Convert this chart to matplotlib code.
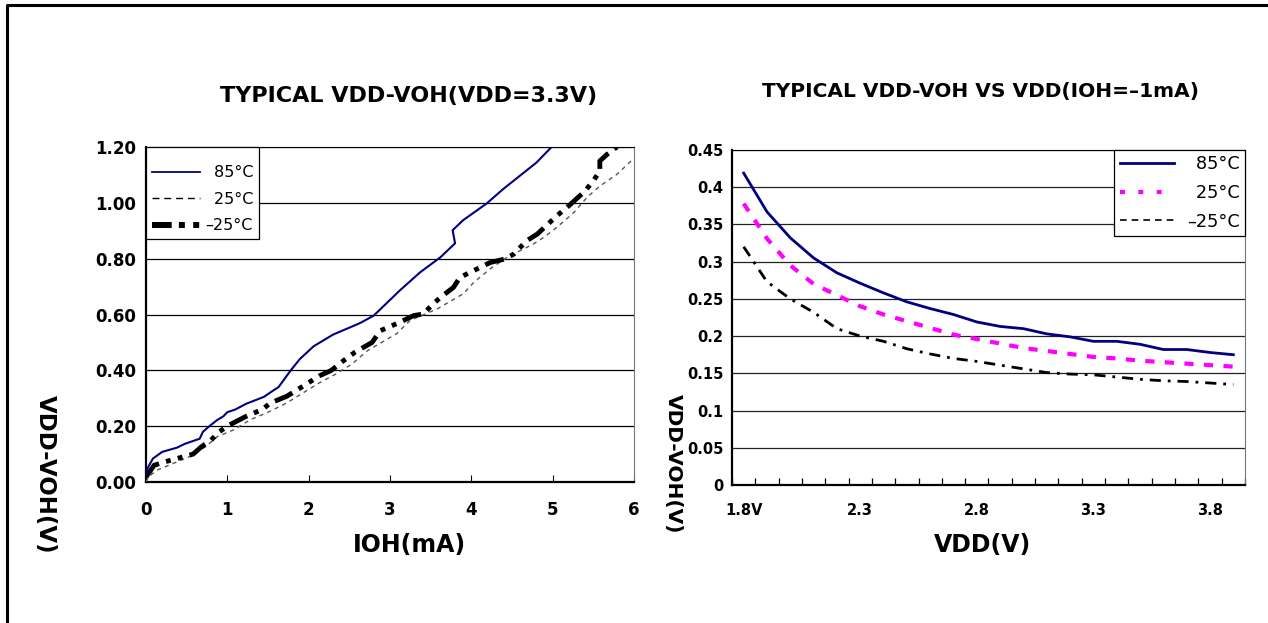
import numpy as np
import matplotlib
matplotlib.use('Agg')
import matplotlib.pyplot as plt
from matplotlib.lines import Line2D
from matplotlib.ticker import FixedLocator, FormatStrFormatter

# left chart: VDD-VOH vs IOH at VDD=3.3V
ioh_85 = [0, 0.02, 0.085, 0.2, 0.38, 0.48, 0.66, 0.70, 0.78, 0.87, 0.95, 1.0, 1.1, 1.23,
          1.45, 1.55, 1.63, 1.78, 1.89, 2.06, 2.30, 2.63, 2.80, 3.12, 3.37, 3.62, 3.80,
          3.77, 3.90, 4.19, 4.39, 4.80, 4.98]
voh_85 = [0.03, 0.05, 0.084, 0.108, 0.123, 0.137, 0.155, 0.18, 0.20, 0.221, 0.235, 0.25,
          0.26, 0.28, 0.305, 0.325, 0.34, 0.40, 0.44, 0.486, 0.528, 0.569, 0.596, 0.686,
          0.751, 0.805, 0.855, 0.902, 0.938, 0.998, 1.049, 1.144, 1.198]

ioh_25 = [0, 0.03, 0.13, 0.33, 0.53, 0.73, 0.88, 1.08, 1.28, 1.48, 1.73, 1.93, 2.13, 2.33,
          2.53, 2.72, 3.08, 3.25, 3.58, 3.90, 4.03, 4.23, 4.44, 4.76, 4.89, 5.05, 5.26,
          5.42, 5.58, 5.79, 6.0]
voh_25 = [0, 0.018, 0.042, 0.066, 0.09, 0.126, 0.163, 0.187, 0.223, 0.247, 0.283, 0.319,
          0.355, 0.386, 0.422, 0.47, 0.531, 0.579, 0.620, 0.674, 0.715, 0.763, 0.805,
          0.852, 0.876, 0.912, 0.965, 1.019, 1.060, 1.102, 1.16]

ioh_m25 = [0, 0.1, 0.23, 0.38, 0.58, 0.68, 0.8, 0.9, 1.03, 1.23, 1.43, 1.53, 1.73, 1.93,
           2.13, 2.28, 2.43, 2.57, 2.78, 2.88, 3.12, 3.29, 3.41, 3.53, 3.62, 3.78, 3.86,
           4.11, 4.23, 4.40, 4.52, 4.68, 4.81, 5.05, 5.22, 5.40, 5.50, 5.58, 5.58, 5.67,
           5.79]
voh_m25 = [0.018, 0.06, 0.072, 0.084, 0.10, 0.126, 0.15, 0.18, 0.205, 0.235, 0.26, 0.283,
           0.307, 0.343, 0.38, 0.40, 0.435, 0.465, 0.50, 0.542, 0.572, 0.596, 0.602,
           0.638, 0.661, 0.697, 0.733, 0.769, 0.786, 0.798, 0.816, 0.864, 0.888, 0.953,
           0.995, 1.043, 1.079, 1.114, 1.150, 1.174, 1.20]

# right chart: VDD-VOH vs VDD at IOH=-1mA
vdd = [1.8, 1.9, 2.0, 2.1, 2.2, 2.3, 2.4, 2.5, 2.6, 2.7, 2.8, 2.9, 3.0, 3.1, 3.2, 3.3,
       3.4, 3.5, 3.6, 3.7, 3.8, 3.9]
vdd_labels = ['1.8V', '2.3', '2.8', '3.3', '3.8']
r_85 = [0.419, 0.367, 0.332, 0.305, 0.285, 0.271, 0.258, 0.246, 0.237, 0.229, 0.219,
        0.213, 0.210, 0.203, 0.199, 0.193, 0.193, 0.189, 0.182, 0.182, 0.178, 0.175]
r_25 = [0.378, 0.331, 0.295, 0.270, 0.255, 0.240, 0.229, 0.220, 0.211, 0.202, 0.196,
        0.190, 0.184, 0.180, 0.176, 0.172, 0.170, 0.167, 0.165, 0.163, 0.161, 0.159]
r_m25 = [0.320, 0.273, 0.250, 0.232, 0.210, 0.200, 0.193, 0.183, 0.176, 0.170, 0.166,
         0.161, 0.156, 0.151, 0.149, 0.148, 0.145, 0.142, 0.140, 0.139, 0.137, 0.135]

labels = ['\u200285°C', '\u200225°C', '–25°C']

W, H = 1268, 623
fig = plt.figure(figsize=(W / 100, H / 100), dpi=100)
fig.patch.set_facecolor('white')

def px_axes(x0, y0, x1, y1):
    return fig.add_axes([x0 / W, 1 - y1 / H, (x1 - x0) / W, (y1 - y0) / H])

# outer frame (only left and top edges visible)
fig.add_artist(Line2D([7 / W, 7 / W, 1], [0, 1 - 5 / H, 1 - 5 / H],
                      transform=fig.transFigure, color='black', lw=2.2))

# ---- left chart ----
ax1 = px_axes(146, 147, 634, 482)
ax1.plot(ioh_85, voh_85, color='#000080', lw=1.5, zorder=4)
ax1.plot(ioh_25, voh_25, color='#555555', lw=1.0, ls=(0, (3, 3)), zorder=3)
ax1.plot(ioh_m25, voh_m25, color='black', lw=3.5, ls=(0, (4, 1.5, 1, 1.5, 1, 1.5)),
         zorder=3)
ax1.set_xlim(0, 6)
ax1.set_ylim(0, 1.2)
ax1.set_yticks(np.arange(0, 1.21, 0.2))
ax1.yaxis.set_major_formatter(FormatStrFormatter('%.2f'))
ax1.set_xticks(range(7))
ax1.grid(axis='y', color='black', lw=0.9)
ax1.tick_params(axis='y', length=0, pad=7, labelsize=12)
ax1.tick_params(axis='x', direction='in', length=5, pad=14, labelsize=12)
for lab in ax1.get_xticklabels() + ax1.get_yticklabels():
    lab.set_fontweight('bold')
for s in ['left', 'bottom']:
    ax1.spines[s].set_linewidth(1.6)
ax1.spines['right'].set_color('#777777')

# legend keys drawn like the original chart's legend
h1 = [Line2D([], [], color='#000080', lw=1.3),
      Line2D([], [], color='black', lw=1.0, ls=(0, (5, 3.5))),
      Line2D([], [], color='black', lw=4.3, ls=(0, (3.3, 1.2, 1, 1.4, 1, 1.4)))]
leg1 = ax1.legend(h1, labels, loc='upper left', bbox_to_anchor=(0, 1), borderaxespad=0,
                  fancybox=False, edgecolor='black', framealpha=1, fontsize=11.5,
                  handlelength=3.06, handletextpad=0.33, borderpad=0.35,
                  labelspacing=0.72, title=' ', title_fontsize=1)
leg1.get_frame().set_linewidth(0.9)
leg1.set_zorder(10)

fig.text(409 / W, 1 - 96 / H, 'TYPICAL VDD-VOH(VDD=3.3V)', ha='center', va='center',
         fontsize=16, fontweight='bold')
fig.text(409 / W, 1 - 545 / H, 'IOH(mA)', ha='center', va='center',
         fontsize=17, fontweight='bold')
fig.text(45 / W, 1 - 474 / H, 'VDD-VOH(V)', ha='center', va='center', rotation=-90,
         fontsize=16.5, fontweight='bold')

# ---- right chart ----
ax2 = px_axes(732, 150, 1245, 485)
xs = np.arange(len(vdd))
ax2.plot(xs, r_85, color='#000080', lw=2.0, zorder=4)
ax2.plot(xs, r_25, color='#FF00FF', lw=3.0, ls=(0, (2.2, 2.5)), zorder=3)
ax2.plot(xs, r_m25, color='black', lw=2.0, ls=(0, (4, 2.5, 1, 2.5)), zorder=3)
ax2.set_xlim(-0.5, len(vdd) - 0.5)
ax2.set_ylim(0, 0.45)
ax2.set_yticks(np.arange(0, 0.451, 0.05))
ax2.set_yticklabels(['0', '0.05', '0.1', '0.15', '0.2', '0.25', '0.3', '0.35', '0.4',
                     '0.45'])
ax2.set_xticks([vdd.index(v) for v in [1.8, 2.3, 2.8, 3.3, 3.8]])
ax2.set_xticklabels(vdd_labels)
ax2.xaxis.set_minor_locator(FixedLocator(np.arange(-0.5, len(vdd), 1)))
ax2.grid(axis='y', color='#222222', lw=0.9)
ax2.tick_params(axis='y', length=0, pad=6, labelsize=10.5)
ax2.tick_params(axis='x', which='major', length=0, pad=13, labelsize=10.5)
ax2.tick_params(axis='x', which='minor', direction='in', length=5, width=0.9)
for lab in ax2.get_xticklabels() + ax2.get_yticklabels():
    lab.set_fontweight('bold')
for s in ['left', 'bottom']:
    ax2.spines[s].set_linewidth(1.6)
ax2.spines['right'].set_color('#777777')

h2 = [Line2D([], [], color='#000080', lw=2.0),
      Line2D([], [], color='#FF00FF', lw=3.0, ls=(0, (1.2, 3.2))),
      Line2D([], [], color='black', lw=1.2, ls=(0, (4, 3)))]
leg2 = ax2.legend(h2, labels, loc='upper right', bbox_to_anchor=(1, 1), borderaxespad=0,
                  fancybox=False, edgecolor='black', framealpha=1, fontsize=12.8,
                  handlelength=3.05, handletextpad=0.73, borderpad=0.3,
                  labelspacing=0.6)
leg2.get_frame().set_linewidth(0.9)
leg2.set_zorder(10)

fig.text(980 / W, 1 - 91 / H, 'TYPICAL VDD-VOH VS VDD(IOH=–1mA)', ha='center',
         va='center', fontsize=14.5, fontweight='bold')
fig.text(983 / W, 1 - 545 / H, 'VDD(V)', ha='center', va='center',
         fontsize=17, fontweight='bold')
fig.text(673 / W, 1 - 464 / H, 'VDD-VOH(V)', ha='center', va='center', rotation=-90,
         fontsize=14.5, fontweight='bold')

fig.savefig('out.png', dpi=100)
